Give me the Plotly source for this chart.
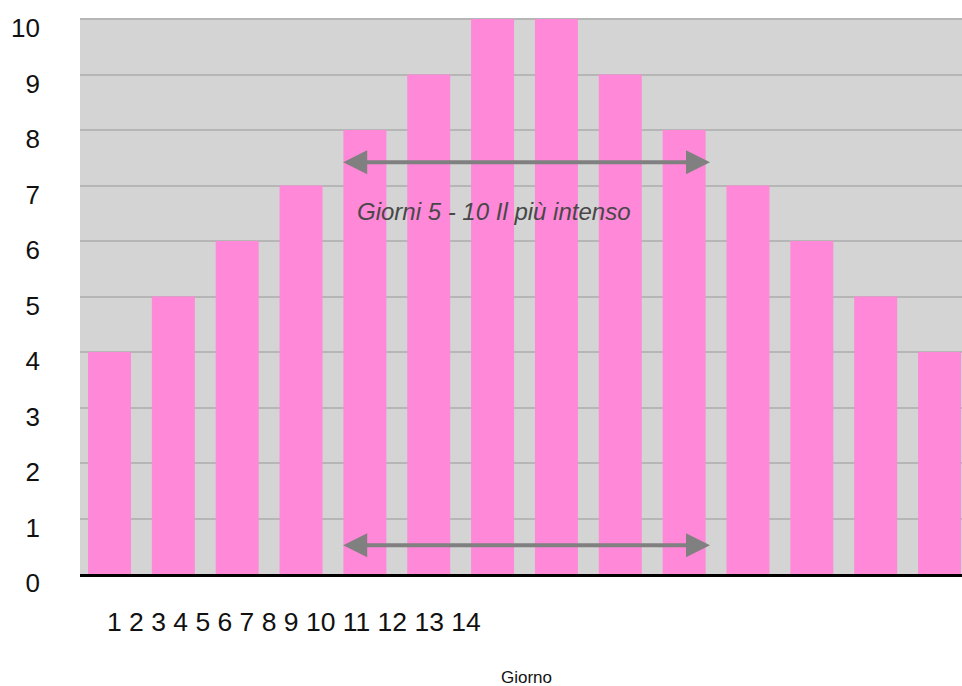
import plotly.graph_objects as go

days = list(range(1, 15))
values = [4, 5, 6, 7, 8, 9, 10, 10, 9, 8, 7, 6, 5, 4]
y_ticks = list(range(0, 11))
x_tick_labels = [str(d) for d in days]
note_text = "Giorni 5 - 10 Il più intenso"
x_title = "Giorno"

FONT = "Arial, Liberation Sans, sans-serif"

fig = go.Figure()
fig.add_trace(go.Bar(
    x=days, y=values, width=0.673,
    marker=dict(color="#FF88D8", line=dict(width=0)),
    hoverinfo="x+y",
))

# double-headed arrows spanning days 5-10
for yy in (7.42, 0.52):
    fig.add_annotation(
        x=10.405, y=yy, ax=4.637, ay=yy, xref="x", yref="y", axref="x", ayref="y",
        text="", showarrow=True, arrowside="end+start", arrowhead=2,
        arrowsize=1.2, arrowwidth=4, arrowcolor="#808080",
    )

fig.add_annotation(
    x=7.02, y=6.53, xref="x", yref="y", text=note_text, showarrow=False,
    font=dict(family=FONT, size=24, color="#484848", style="italic"),
)

fig.add_annotation(
    x=(105 - 80) / 882, y=-(622 - 574) / 556, xref="paper", yref="paper",
    xanchor="left", yanchor="middle", text=" ".join(x_tick_labels), showarrow=False,
    font=dict(family=FONT, size=26.5, color="#111111"),
)

fig.add_annotation(
    x=(526.5 - 80) / 882, y=-(677 - 574) / 556, xref="paper", yref="paper",
    xanchor="center", yanchor="middle", text=x_title, showarrow=False,
    font=dict(family=FONT, size=17, color="#111111"),
)

fig.update_layout(
    width=962, height=686,
    margin=dict(l=80, r=0, t=18, b=112),
    paper_bgcolor="white", plot_bgcolor="#D4D4D4",
    showlegend=False,
    bargap=0.33,
    xaxis=dict(range=[0.538, 14.352], showticklabels=False, showgrid=False,
               zeroline=False, showline=True, linecolor="black", linewidth=3,
               ticks=""),
    yaxis=dict(range=[0, 10.02], tickvals=y_ticks, showgrid=True,
               gridcolor="#B6B6B6", gridwidth=2, zeroline=False, showline=False,
               ticks="", ticklabelstandoff=39, ticklabelshift=9,
               ticklabeloverflow="allow",
               tickfont=dict(family=FONT, size=26, color="#111111")),
)

fig.write_html(
    "out.html",
    config={"displayModeBar": False},
    post_script="document.body.style.margin='0';document.body.style.overflow='hidden';",
)
